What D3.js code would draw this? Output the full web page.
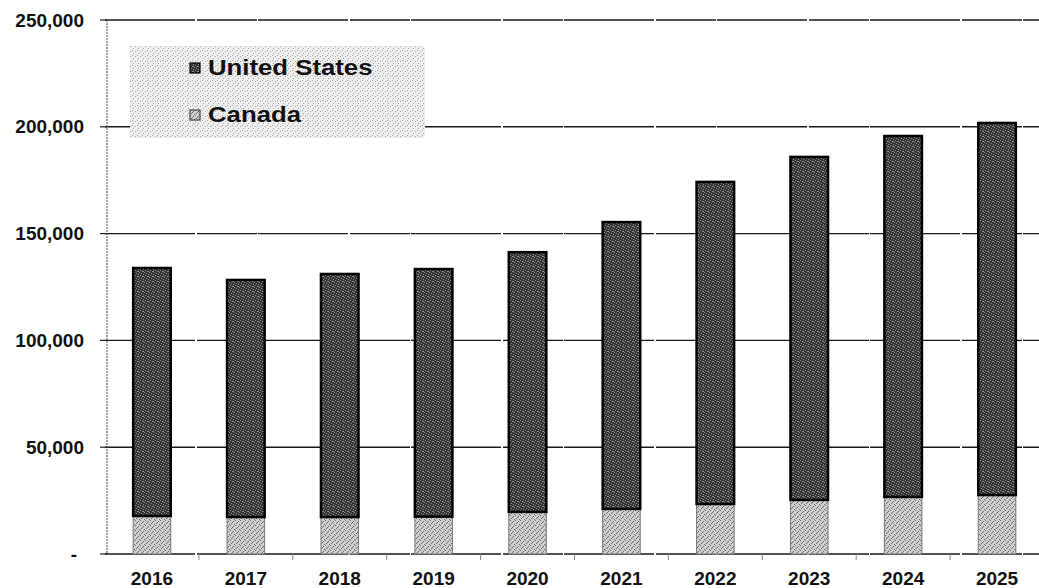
<!DOCTYPE html>
<html>
<head>
<meta charset="utf-8">
<script src="https://cdn.jsdelivr.net/npm/d3@7/dist/d3.min.js"></script>
<style>
  html, body { margin: 0; padding: 0; background: #fff; }
  svg { display: block; }
  text { font-family: "Liberation Sans", Arial, sans-serif; font-weight: bold; fill: #111; }
</style>
</head>
<body>
<svg id="chart" width="1039" height="588"></svg>
<script>
// Annual volumes by country, stacked (Canada at the base, United States on top)
const years = ["2016", "2017", "2018", "2019", "2020", "2021", "2022", "2023", "2024", "2025"];
const canada = [17800, 17300, 17300, 17500, 19700, 21100, 23400, 25300, 26700, 27600];
const unitedStates = [116100, 111000, 113800, 115900, 121600, 134300, 150800, 160600, 169000, 174200];
const yTicks = [0, 50000, 100000, 150000, 200000, 250000];
const seriesNames = ["United States", "Canada"];

const svg = d3.select("#chart");
const W = 1039, H = 588;
const plotLeft = 105, plotRight = 1044, plotTop = 20, plotBottom = 554;

// Stippled fills that give the printed, halftone look
const defs = svg.append("defs");
function stipple(id, base, dot, cells) {
  const p = defs.append("pattern").attr("id", id)
    .attr("width", 5).attr("height", 5).attr("patternUnits", "userSpaceOnUse");
  p.append("rect").attr("width", 5).attr("height", 5).attr("fill", base);
  cells.forEach(([cx, cy]) => p.append("rect").attr("x", cx).attr("y", cy)
    .attr("width", 1).attr("height", 1).attr("fill", dot));
}
stipple("usFill", "#343434", "#8e8e8e", [[0,0],[2,1],[4,2],[1,3],[3,4],[3,1]]);
stipple("caFill", "#cfcfcf", "#6a6a6a", [[0,0],[3,1],[1,3],[4,4],[2,2]]);
stipple("legendFill", "#efefef", "#a4a4a4", [[0,1],[3,3],[2,0]]);

const x = d3.scaleBand().domain(years).range([plotLeft, plotRight]).paddingInner(0.6).paddingOuter(0.3);
const y = d3.scaleLinear().domain([0, 250000]).range([plotBottom, plotTop]);

// Horizontal gridlines
svg.append("g").selectAll("line").data(yTicks).join("line")
  .attr("x1", plotLeft).attr("x2", W)
  .attr("y1", d => y(d)).attr("y2", d => y(d))
  .attr("stroke", "#1a1a1a").attr("stroke-width", 1.4)
  .attr("stroke-dasharray", "90,2,60,1");

// Vertical axis line and ticks
svg.append("line").attr("x1", plotLeft + 2).attr("x2", plotLeft + 2)
  .attr("y1", plotTop).attr("y2", plotBottom)
  .attr("stroke", "#555").attr("stroke-width", 1).attr("stroke-dasharray", "2,1");
svg.append("g").selectAll("line").data(yTicks).join("line")
  .attr("x1", plotLeft - 5).attr("x2", plotLeft + 2)
  .attr("y1", d => y(d)).attr("y2", d => y(d))
  .attr("stroke", "#222").attr("stroke-width", 1.2);

// Category boundary ticks under the baseline
const step = x.step();
svg.append("g").selectAll("line").data(years.slice(1)).join("line")
  .attr("x1", d => x(d) - x.paddingInner() * step / 2)
  .attr("x2", d => x(d) - x.paddingInner() * step / 2)
  .attr("y1", plotBottom).attr("y2", plotBottom + 6)
  .attr("stroke", "#888").attr("stroke-width", 1);

// Stacked bars
const stackData = years.map((yr, i) => ({ year: yr, Canada: canada[i], "United States": unitedStates[i] }));
const stacked = d3.stack().keys(["Canada", "United States"])(stackData);
const fills = { "Canada": "url(#caFill)", "United States": "url(#usFill)" };
const strokes = { "Canada": "#777", "United States": "#000" };

svg.append("g").selectAll("g").data(stacked).join("g")
  .each(function(layer) {
    d3.select(this).selectAll("rect").data(layer).join("rect")
      .attr("x", d => x(d.data.year))
      .attr("width", x.bandwidth())
      .attr("y", d => y(d[1]))
      .attr("height", d => y(d[0]) - y(d[1]))
      .attr("fill", fills[layer.key])
      .attr("stroke", strokes[layer.key])
      .attr("stroke-width", layer.key === "United States" ? 2.5 : 1);
  });

// Y tick labels
const fmt = d => d === 0 ? "-" : d3.format(",")(d);
svg.append("g").selectAll("text").data(yTicks).join("text")
  .attr("x", d => d === 0 ? 77 : 84)
  .attr("y", d => y(d) + 6.5)
  .attr("text-anchor", "end")
  .style("font-size", "19px")
  .text(fmt);

// X labels
svg.append("g").selectAll("text").data(years).join("text")
  .attr("x", d => x(d) + x.bandwidth() / 2)
  .attr("y", 585)
  .attr("text-anchor", "middle")
  .style("font-size", "19px")
  .text(d => d);

// Legend
const lg = svg.append("g");
lg.append("rect").attr("x", 130).attr("y", 46).attr("width", 295).attr("height", 92)
  .attr("fill", "url(#legendFill)");
const legendRows = [
  { name: seriesNames[0], fill: "url(#usFill)", stroke: "#000", yy: 75 },
  { name: seriesNames[1], fill: "url(#caFill)", stroke: "#444", yy: 122 }
];
legendRows.forEach(r => {
  lg.append("rect").attr("x", 190).attr("y", r.yy - 12).attr("width", 10).attr("height", 10)
    .attr("fill", r.fill).attr("stroke", r.stroke).attr("stroke-width", 1.2);
  const t = lg.append("text").attr("x", 208).attr("y", r.yy)
    .style("font-size", "22px").text(r.name);
  const w = t.node().getComputedTextLength();
  t.attr("textLength", w * 1.17).attr("lengthAdjust", "spacingAndGlyphs");
});
</script>
</body>
</html>
